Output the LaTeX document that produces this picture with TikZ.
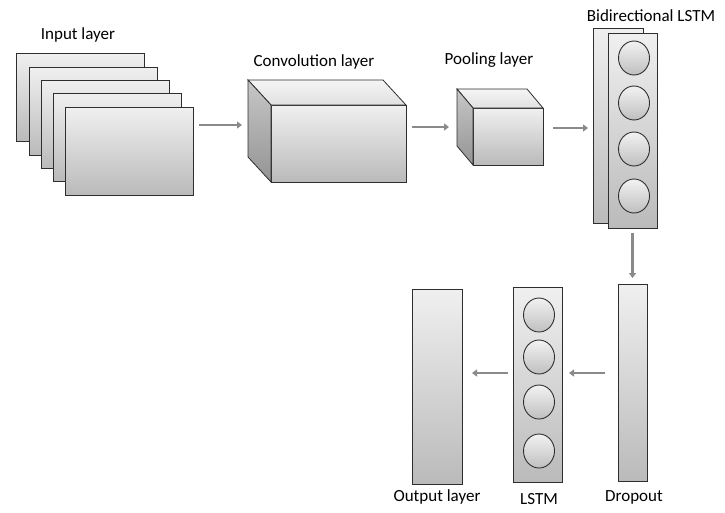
\documentclass[tikz,border=0pt]{standalone}
\usepackage{fontspec}
\setmainfont{Carlito}
\usetikzlibrary{arrows.meta,shapes.geometric}
\definecolor{edge}{HTML}{2E2E2E}
\definecolor{arrowgray}{HTML}{8A8A8A}
\tikzset{
  plate/.style={draw=edge, line width=0.8pt, inner sep=0pt, outer sep=0pt,
    anchor=north west, top color=black!6, bottom color=black!27},
  unit/.style={ellipse, draw=edge, line width=0.9pt, inner sep=0pt,
    minimum width=31pt, minimum height=34pt,
    top color=black!5, bottom color=black!25},
  topface/.style={draw=edge, line width=0.8pt, top color=black!4, bottom color=black!12},
  sideface/.style={draw=edge, line width=0.8pt, top color=black!22, bottom color=black!42},
  flow/.style={draw=arrowgray, line width=2.6pt,
    -{Triangle[length=5pt,width=7pt]}},
  caption/.style={font=\fontsize{17}{19}\selectfont, inner sep=0pt}
}
\begin{document}
\begin{tikzpicture}[x=1pt,y=-1pt]
\useasboundingbox (0,0) rectangle (725,512);

% input stack of feature maps
\node[plate, minimum width=128pt, minimum height=88pt] (in1) at (16,53) {};
\node[plate, minimum width=128pt, minimum height=88pt] (in2) at (29,67) {};
\node[plate, minimum width=128pt, minimum height=88pt] (in3) at (41,80) {};
\node[plate, minimum width=128pt, minimum height=88pt] (in4) at (53,93) {};
\node[plate, minimum width=128pt, minimum height=88pt] (in5) at (65,107) {};
\node[caption] (lin) at (78,35) {Input layer};

% convolution block
\node[plate, minimum width=135pt, minimum height=77pt] (conv) at (271,105) {};
\path[topface] (conv.north west) -- ++(-23,-25) -- ++(135,0) -- (conv.north east) -- cycle;
\path[sideface] (conv.north west) -- ++(-23,-25) -- ++(0,77) -- (conv.south west) -- cycle;
\node[caption] (lconv) at (314,62) {Convolution layer};

% pooling block
\node[plate, minimum width=70pt, minimum height=57pt] (pool) at (473,108) {};
\path[topface] (pool.north west) -- ++(-16,-19) -- ++(70,0) -- (pool.north east) -- cycle;
\path[sideface] (pool.north west) -- ++(-16,-19) -- ++(0,57) -- (pool.south west) -- cycle;
\node[caption] (lpool) at (489,60) {Pooling layer};

% bidirectional LSTM
\node[plate, minimum width=50pt, minimum height=195pt] (bl1) at (593,28) {};
\node[plate, minimum width=49pt, minimum height=195pt] (bl2) at (608,33) {};
\node[unit] (bu1) at (634,58) {};
\node[unit] (bu2) at (634,103) {};
\node[unit] (bu3) at (634,149) {};
\node[unit] (bu4) at (634,196) {};
\node[caption] (lbl) at (651,16) {Bidirectional LSTM};

% dropout
\node[plate, minimum width=29pt, minimum height=197pt] (drop) at (618,284) {};
\node[caption] (ldrop) at (634,497) {Dropout};

% LSTM
\node[plate, minimum width=49pt, minimum height=195pt] (lstm) at (513,287) {};
\node[unit] (lu1) at (539,315) {};
\node[unit] (lu2) at (539,357) {};
\node[unit] (lu3) at (539,402) {};
\node[unit] (lu4) at (539,451) {};
\node[caption] (llstm) at (539,499) {LSTM};

% output
\node[plate, minimum width=50pt, minimum height=195pt] (out) at (412,289) {};
\node[caption] (lout) at (437,497) {Output layer};

% data flow
\coordinate (r1) at (0,125);
\coordinate (r2) at (0,127);
\coordinate (r3) at (0,128);
\coordinate (r4) at (0,373);
\draw[flow] ([xshift=6pt]in5.east |- r1) -- ([xshift=-29pt]conv.west |- r1);
\draw[flow] ([xshift=6pt]conv.east |- r2) -- ([xshift=-24pt]pool.west |- r2);
\draw[flow] ([xshift=10pt]pool.east |- r3) -- ([xshift=-5pt]bl1.west |- r3);
\draw[flow] ([yshift=-5pt]bl2.south) -- ([yshift=6pt]drop.north);
\draw[flow] ([xshift=-13pt]drop.west |- r4) -- ([xshift=7pt]lstm.east |- r4);
\draw[flow] ([xshift=-5pt]lstm.west |- r4) -- ([xshift=10pt]out.east |- r4);
\end{tikzpicture}
\end{document}
